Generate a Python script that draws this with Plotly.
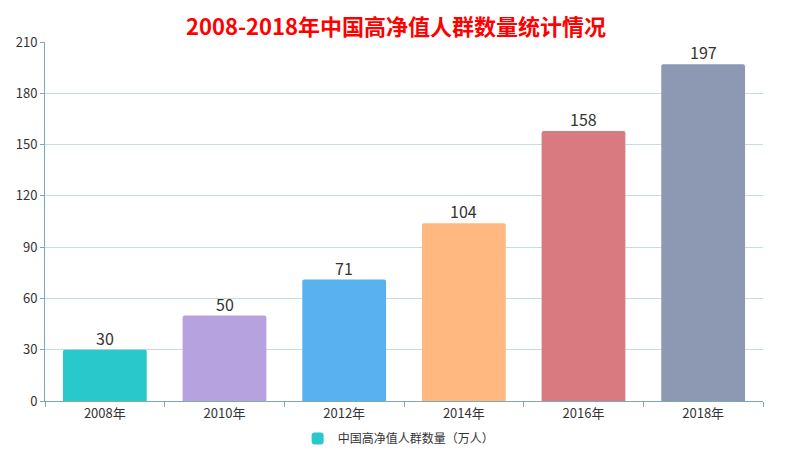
import plotly.graph_objects as go

years = ["2008年", "2010年", "2012年", "2014年", "2016年", "2018年"]
counts = [30, 50, 71, 104, 158, 197]
bar_colors = ["#29c8ca", "#b6a2de", "#5ab1ef", "#ffb980", "#d87a80", "#8d98b3"]
y_ticks = [0, 30, 60, 90, 120, 150, 180, 210]

_FONT = "Noto Sans CJK SC, Noto Sans, sans-serif"
_TEXT = "#333333"
_GRID = "#c5dde2"
_AXIS = "#7fa9b0"

fig = go.Figure()
fig.add_trace(go.Bar(
    x=years,
    y=counts,
    name="中国高净值人群数量（万人）",
    marker=dict(color=bar_colors, line=dict(width=0), cornerradius=2),
    showlegend=True,
))

# value labels sitting just above each bar
for yr, c in zip(years, counts):
    fig.add_annotation(
        x=yr, y=c, text=str(c), showarrow=False,
        yanchor="bottom", yshift=-2,
        font=dict(size=16, color=_TEXT, family=_FONT),
    )

fig.update_layout(
    width=802,
    height=456,
    paper_bgcolor="#FFFFFF",
    plot_bgcolor="#FFFFFF",
    font=dict(family=_FONT, color=_TEXT, size=12),
    margin=dict(l=45, r=39, t=42, b=55, autoexpand=False),
    title=dict(
        text="<b>2008-2018年中国高净值人群数量统计情况</b>",
        x=396 / 802, xanchor="center", y=0.957, yanchor="top",
        font=dict(size=22, color="#ff0000", family=_FONT),
    ),
    bargap=0.3,
    showlegend=True,
    legend=dict(
        orientation="h", x=395 / 802, xanchor="center",
        yref="container", y=0.07, yanchor="top",
        font=dict(size=12, color=_TEXT),
    ),
    xaxis=dict(
        showline=True, linecolor=_AXIS, linewidth=1,
        ticks="outside", tickson="boundaries", ticklen=5, tickcolor=_AXIS,
        tickfont=dict(size=13, color=_TEXT),
        showgrid=False,
    ),
    yaxis=dict(
        range=[0, 210], tickvals=y_ticks,
        showline=True, linecolor=_AXIS, linewidth=1,
        ticks="outside", ticklen=4, tickcolor=_AXIS,
        gridcolor=_GRID, gridwidth=1,
        zeroline=False,
        tickfont=dict(size=13, color=_TEXT),
    ),
)

fig.write_html(
    "out.html",
    config={"displayModeBar": False},
    post_script="document.body.style.margin='0';",
)
